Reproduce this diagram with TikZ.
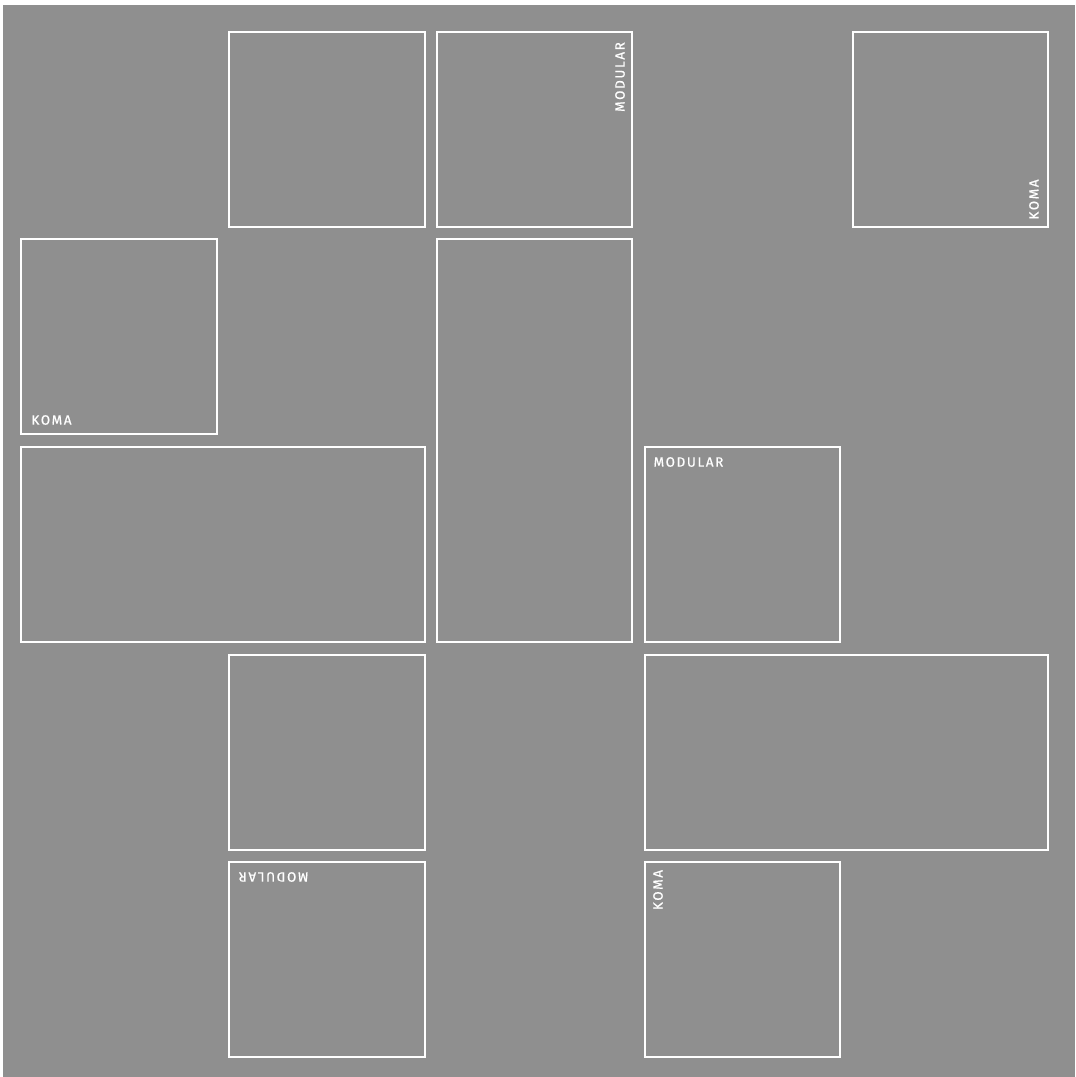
\documentclass[tikz,border=0pt]{standalone}
\usepackage{fontspec}
\newfontfamily\labfont[LetterSpace=12,FakeBold=0.7]{Fira Sans}
\definecolor{bggray}{RGB}{143,143,143}
\begin{document}
\begin{tikzpicture}[x=1pt,y=-1pt,
  frame/.style={draw=white,line width=2.5pt},
  lab/.style={text=white,inner sep=0pt,font=\labfont\fontsize{13.5}{13.5}\selectfont}]
\useasboundingbox (0,0) rectangle (1076,1077);
\fill[bggray] (3,5) rectangle (1075,1077);
% frames
\draw[frame] (229,32) rectangle (425,227) coordinate (r1);
\draw[frame] (437,32) rectangle (632,227) coordinate (r2);
\draw[frame] (853,32) rectangle (1048,227) coordinate (r3);
\draw[frame] (21,239) rectangle (217,434) coordinate (r4);
\draw[frame] (437,239) rectangle (632,642) coordinate (r5);
\draw[frame] (21,447) rectangle (425,642) coordinate (r6);
\draw[frame] (645,447) rectangle (840,642) coordinate (r7);
\draw[frame] (229,655) rectangle (425,850) coordinate (r8);
\draw[frame] (645,655) rectangle (1048,850) coordinate (r9);
\draw[frame] (229,862) rectangle (425,1057) coordinate (r10);
\draw[frame] (645,862) rectangle (840,1057) coordinate (r11);
% labels
\node[lab,rotate=90] (t2) at (620,77) {MODULAR};
\node[lab,rotate=90] (t3) at (1034,199.5) {KOMA};
\node[lab] (t4) at (51.5,420) {KOMA};
\node[lab] (t7) at (688.5,462) {MODULAR};
\node[lab,rotate=180] (t10) at (273.5,877) {MODULAR};
\node[lab,rotate=90] (t11) at (658,890) {KOMA};
\end{tikzpicture}
\end{document}
